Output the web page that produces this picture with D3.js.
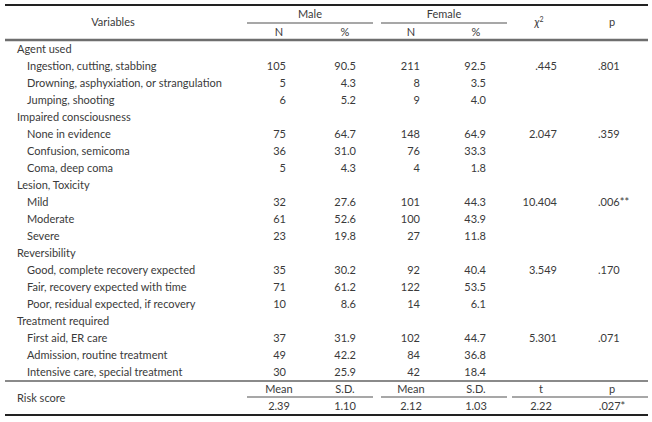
<!DOCTYPE html>
<html><head><meta charset="utf-8">
<script src="https://cdn.jsdelivr.net/npm/d3@7"></script>
<style>
html,body{margin:0;padding:0;background:#fff;}
svg text{font-family:"Lato","Noto Sans",sans-serif;font-size:11px;fill:#3a3a3a;}
</style></head>
<body><svg id="c" width="652" height="422"></svg>
<script>
const groups = ["Agent used","Impaired consciousness","Lesion, Toxicity","Reversibility","Treatment required"];
const items = [
  ["Ingestion, cutting, stabbing","Drowning, asphyxiation, or strangulation","Jumping, shooting"],
  ["None in evidence","Confusion, semicoma","Coma, deep coma"],
  ["Mild","Moderate","Severe"],
  ["Good, complete recovery expected","Fair, recovery expected with time","Poor, residual expected, if recovery"],
  ["First aid, ER care","Admission, routine treatment","Intensive care, special treatment"]
];
const maleN = [[105,5,6],[75,36,5],[32,61,23],[35,71,10],[37,49,30]];
const malePct = [["90.5","4.3","5.2"],["64.7","31.0","4.3"],["27.6","52.6","19.8"],["30.2","61.2","8.6"],["31.9","42.2","25.9"]];
const femaleN = [[211,8,9],[148,76,4],[101,100,27],[92,122,14],[102,84,42]];
const femalePct = [["92.5","3.5","4.0"],["64.9","33.3","1.8"],["44.3","43.9","11.8"],["40.4","53.5","6.1"],["44.7","36.8","18.4"]];
const chi2 = [".445","2.047","10.404","3.549","5.301"];
const pval = [".801",".359",".006**",".170",".071"];
const scoreLabels = ["Mean","S.D.","Mean","S.D.","t","p"];
const scoreValues = ["2.39","1.10","2.12","1.03","2.22",".027*"];

const svg = d3.select("#c");
const W = 652;

// build row list
const rows = [];
groups.forEach((g,gi)=>{
  rows.push({type:"group",label:g,gi});
  items[gi].forEach((it,ii)=>{
    rows.push({type:"item",label:it,
      mN:maleN[gi][ii], mP:malePct[gi][ii], fN:femaleN[gi][ii], fP:femalePct[gi][ii],
      chi: ii===0?chi2[gi]:"", p: ii===0?pval[gi]:""});
  });
});

const y = d3.scaleBand().domain(d3.range(rows.length)).range([41,381]);
const cols = ["mN","mP","fN","fP","chi","p"];
// column anchor positions
const xEnd = d3.scaleOrdinal().domain(cols).range([286,356,420,486,557,598]);
const xCenter = d3.scaleOrdinal().domain(cols).range([279,345,411,476,541,612]);

function line(x1,x2,yy,w,c){
  svg.append("line").attr("x1",x1).attr("x2",x2).attr("y1",yy).attr("y2",yy)
    .attr("stroke",c).attr("stroke-width",w);
}

// header
line(5,648,5,2,"#222");
svg.append("text").attr("x",113).attr("y",22).attr("text-anchor","middle").attr("dy","0.35em").text("Variables");
svg.append("text").attr("x",310).attr("y",14).attr("text-anchor","middle").attr("dy","0.35em").text("Male");
svg.append("text").attr("x",444).attr("y",14).attr("text-anchor","middle").attr("dy","0.35em").text("Female");
line(247,373,23,1.5,"#8a8a8a");
line(381,507,23,1.5,"#8a8a8a");
const chiT = svg.append("text").attr("x",539).attr("y",22).attr("text-anchor","middle").attr("dy","0.35em");
chiT.append("tspan").attr("font-style","italic").text("χ");
chiT.append("tspan").attr("dy","-4").style("font-size","7px").text("2");
svg.append("text").attr("x",xCenter("p")).attr("y",22).attr("text-anchor","middle").attr("dy","0.35em").text("p");
["N","%","N","%"].forEach((t,i)=>{
  svg.append("text").attr("x",xCenter(cols[i])).attr("y",32).attr("text-anchor","middle").attr("dy","0.35em").text(t);
});
line(5,648,40,2.5,"#6e6e6e");

// body
const g = svg.append("g");
rows.forEach((r,i)=>{
  const cy = y(i)+y.bandwidth()/2;
  g.append("text").attr("x", r.type==="group"?17:27).attr("y",cy).attr("dy","0.35em").text(r.label);
  if(r.type==="item"){
    ["mN","mP","fN","fP","chi"].forEach(k=>{
      g.append("text").attr("x",xEnd(k)).attr("y",cy).attr("dy","0.35em").attr("text-anchor","end").text(r[k]);
    });
    g.append("text").attr("x",xEnd("p")).attr("y",cy).attr("dy","0.35em").text(r.p);
  }
});

// risk score
line(5,648,381,2,"#8a8a8a");
svg.append("text").attr("x",17).attr("y",398).attr("dy","0.35em").text("Risk score");
scoreLabels.forEach((t,i)=>{
  svg.append("text").attr("x",xCenter(cols[i])).attr("y",389).attr("dy","0.35em").attr("text-anchor","middle").text(t);
  svg.append("text").attr("x",xCenter(cols[i])).attr("y",406).attr("dy","0.35em").attr("text-anchor","middle").text(scoreValues[i]);
});
line(247,373,397,1.5,"#8a8a8a");
line(381,507,397,1.5,"#8a8a8a");
line(512,648,397,1.5,"#8a8a8a");
line(5,648,415,2,"#222");
</script></body></html>
